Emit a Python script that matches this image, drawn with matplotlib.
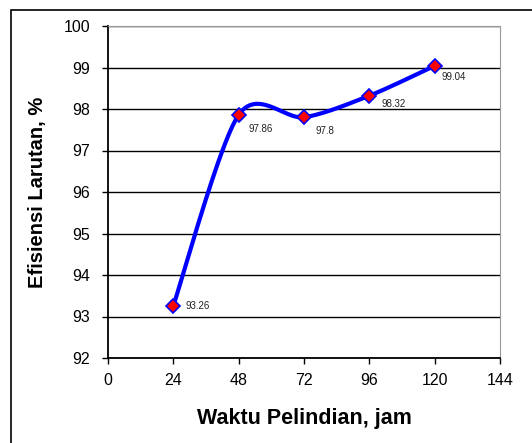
import numpy as np
import matplotlib
matplotlib.use("Agg")
import matplotlib.pyplot as plt
from matplotlib.patches import Rectangle

plt.rcParams['font.family'] = ['Liberation Sans', 'DejaVu Sans']

# data
waktu = [24, 48, 72, 96, 120]
efisiensi = [93.26, 97.86, 97.8, 98.32, 99.04]
x_ticks = [0, 24, 48, 72, 96, 120, 144]
y_ticks = [92, 93, 94, 95, 96, 97, 98, 99, 100]


#Excel-style smoothed line: cubic bezier through the points, control points from neighbours
def smooth_line(xs, ys, n=40, k=0.145):
    xs = np.asarray(xs, float)
    ys = np.asarray(ys, float)
    px, py = [], []
    for i in range(len(xs) - 1):
        i0 = max(i - 1, 0)
        i3 = min(i + 2, len(xs) - 1)
        c1x = xs[i] + (xs[i + 1] - xs[i0]) * k
        c1y = ys[i] + (ys[i + 1] - ys[i0]) * k
        c2x = xs[i + 1] - (xs[i3] - xs[i]) * k
        c2y = ys[i + 1] - (ys[i3] - ys[i]) * k
        t = np.linspace(0, 1, n)
        bx = (1 - t)**3 * xs[i] + 3 * (1 - t)**2 * t * c1x + 3 * (1 - t) * t**2 * c2x + t**3 * xs[i + 1]
        by = (1 - t)**3 * ys[i] + 3 * (1 - t)**2 * t * c1y + 3 * (1 - t) * t**2 * c2y + t**3 * ys[i + 1]
        px.extend(bx)
        py.extend(by)
    return px, py


fig = plt.figure(figsize=(5.32, 4.43), dpi=100)
# outer chart border (runs off the right and bottom)
fig.patches.append(Rectangle((11 / 532, -0.1), 1.2, 1 - 10 / 443 + 0.1, transform=fig.transFigure,
                             fill=False, edgecolor='black', linewidth=1.2))

ax = fig.add_axes([108 / 532, 1 - 358 / 443, (500 - 108) / 532, (358 - 26) / 443])

sx, sy = smooth_line(waktu, efisiensi)
ax.plot(sx, sy, color='#0000ff', linewidth=3, solid_capstyle='round', zorder=3)
ax.plot(waktu, efisiensi, linestyle='none', marker='D', markersize=7.5,
        markerfacecolor='#ff0000', markeredgecolor='#0000ff', markeredgewidth=1.2, zorder=4)

offsets = [(9, 0), (7, -10), (8, -10), (9, -6), (5, -8)]
for x, y, off in zip(waktu, efisiensi, offsets):
    ax.annotate(f"{y:g}", (x, y), xytext=off, textcoords='offset points',
                fontsize=7, va='center', ha='left', color='#222222')

ax.set_xlim(0, 144)
ax.set_ylim(92, 100)
ax.set_xticks(x_ticks)
ax.set_yticks(y_ticks)
ax.tick_params(direction='out', length=4, width=1, labelsize=11.5, color='black')
ax.tick_params(axis='x', pad=7)
ax.tick_params(axis='y', pad=9)
ax.grid(axis='y', color='black', linewidth=1)
ax.set_axisbelow(True)

for side in ['top', 'right']:
    ax.spines[side].set_color('#999999')
for side in ['left', 'bottom']:
    ax.spines[side].set_linewidth(1.3)

ax.set_xlabel('Waktu Pelindian, jam', fontsize=15.5, fontweight='bold', labelpad=14)
ax.set_ylabel('Efisiensi Larutan, %', fontsize=14.5, fontweight='bold', labelpad=12)

fig.savefig('out.png', dpi=100)
